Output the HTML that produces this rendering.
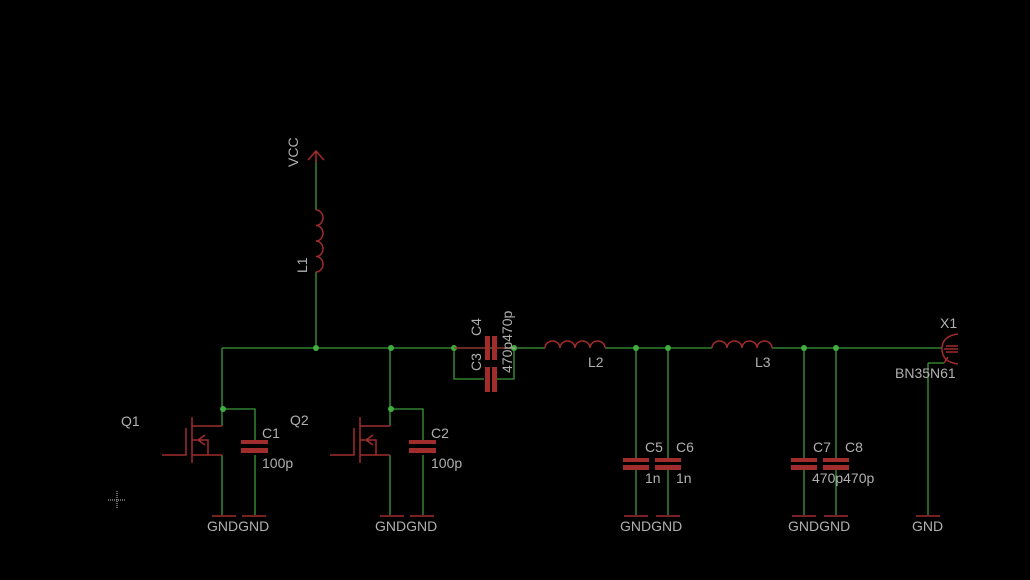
<!DOCTYPE html>
<html><head><style>
html,body{margin:0;padding:0;background:#000;}
svg{display:block;}
text{font-family:"Liberation Sans",sans-serif;font-size:14px;fill:#b0b0b0;}
</style></head><body>
<svg width="1030" height="580" viewBox="0 0 1030 580" xmlns="http://www.w3.org/2000/svg">
<rect width="1030" height="580" fill="#000"/>
<g stroke="#3a9a3a" stroke-width="1.3" fill="none">
<path d="M222 348H545 M605 348H712 M772 348H942"/>
<path d="M316 160V210 M316 272V348"/>
<path d="M222 348V426 M222 455V515 M222 409H255V440 M255 455V515"/>
<path d="M390 348V426 M390 455V515 M390 409H423V440 M423 455V515"/>
<path d="M454 348V379H484 M497 379H514V348"/>
<path d="M636 348V458 M636 470V515 M668 348V458 M668 470V515"/>
<path d="M804 348V458 M804 470V515 M836 348V458 M836 470V515"/>
<path d="M928 363V515 M928 363H944"/>
</g>
<g fill="#3fae3f">
<circle cx="316" cy="348" r="3"/><circle cx="391" cy="348" r="3"/><circle cx="454" cy="348" r="3"/><circle cx="514" cy="348" r="3"/>
<circle cx="223" cy="409" r="3"/><circle cx="391" cy="409" r="3"/>
<circle cx="636" cy="348" r="3"/><circle cx="668" cy="348" r="3"/><circle cx="804" cy="348" r="3"/><circle cx="836" cy="348" r="3"/>
</g>
<g stroke="#a02c2c" stroke-width="1.5" fill="none">
<path d="M308 160L316 151L324 160 M316 151V162"/>
<path d="M316 210 a7 7.75 0 0 1 0 15.5 a7 7.75 0 0 1 0 15.5 a7 7.75 0 0 1 0 15.5 a7 7.75 0 0 1 0 15.5"/>
<path d="M545 348 a7.5 7 0 0 1 15 0 a7.5 7 0 0 1 15 0 a7.5 7 0 0 1 15 0 a7.5 7 0 0 1 15 0"/>
<path d="M712 348 a7.5 7 0 0 1 15 0 a7.5 7 0 0 1 15 0 a7.5 7 0 0 1 15 0 a7.5 7 0 0 1 15 0"/>
<path d="M162 455H186V428 M192 417V463 M192 426H222 M192 455H222 M192 440H208V455 M198 440l7-5 M198 440l7 5"/>
<path d="M330 455H354V428 M360 417V463 M360 426H390 M360 455H390 M360 440H376V455 M366 440l7-5 M366 440l7 5"/>
<path d="M212 516H236 M242 516H266 M380 516H404 M410 516H434 M624 516H648 M656 516H680 M792 516H816 M824 516H848 M916 516H940"/>
<path d="M958 334 Q942 336 942 349 Q942 362 958 364 M944 349H958 M946 346H958 M946 352H958 M944 363L948 357"/>
</g>
<g fill="#a02c2c">
<rect x="241" y="440" width="27" height="4"/><rect x="241" y="448" width="27" height="5"/>
<rect x="409" y="440" width="27" height="4"/><rect x="409" y="448" width="27" height="5"/>
<rect x="485" y="336" width="5" height="24"/><rect x="492" y="336" width="5" height="24"/>
<rect x="485" y="367" width="5" height="25"/><rect x="492" y="367" width="5" height="25"/>
<rect x="623" y="458" width="26" height="4"/><rect x="623" y="465" width="26" height="5"/>
<rect x="655" y="458" width="26" height="4"/><rect x="655" y="465" width="26" height="5"/>
<rect x="791" y="458" width="26" height="4"/><rect x="791" y="465" width="26" height="5"/>
<rect x="823" y="458" width="26" height="4"/><rect x="823" y="465" width="26" height="5"/>
</g>
<g stroke="#a02c2c" stroke-width="1.3"><path d="M497 348H514 M454 348H485"/></g>
<g>
<text transform="translate(298,167) rotate(-90)">VCC</text>
<text transform="translate(307,273) rotate(-90)">L1</text>
<text x="121" y="426">Q1</text><text x="290" y="425">Q2</text>
<text x="262" y="438">C1</text><text x="262" y="468">100p</text>
<text x="431" y="438">C2</text><text x="431" y="468">100p</text>
<text transform="translate(481,336) rotate(-90)">C4</text>
<text transform="translate(481,371) rotate(-90)">C3</text>
<text transform="translate(512,373) rotate(-90)">470p470p</text>
<text x="588" y="367">L2</text><text x="755" y="367">L3</text>
<text x="645" y="452">C5</text><text x="676" y="452">C6</text>
<text x="645" y="483">1n</text><text x="676" y="483">1n</text>
<text x="813" y="452">C7</text><text x="845" y="452">C8</text>
<text x="812" y="483">470p470p</text>
<text x="940" y="328">X1</text><text x="895" y="378">BN35N61</text>
<text x="207" y="531">GNDGND</text><text x="375" y="531">GNDGND</text>
<text x="620" y="531">GNDGND</text><text x="788" y="531">GNDGND</text>
<text x="912" y="531">GND</text>
</g>
<g stroke="#c8c8c8" stroke-width="1" stroke-dasharray="1 1"><path d="M108 500H126 M117 491V509"/></g>
</svg>
</body></html>
